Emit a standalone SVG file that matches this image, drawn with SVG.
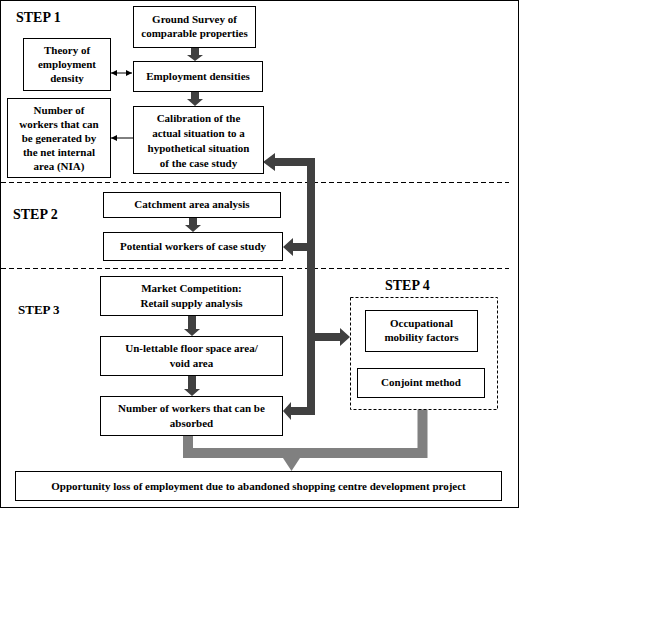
<svg xmlns="http://www.w3.org/2000/svg" width="650" height="636" viewBox="0 0 650 636">
<defs>
<style>
.box{fill:#fff;stroke:#000;stroke-width:1}
.t{font-family:"Liberation Serif","Times New Roman",serif;font-weight:bold;font-size:11px;fill:#000;text-anchor:middle}
.step{font-family:"Liberation Serif","Times New Roman",serif;font-weight:bold;font-size:14px;fill:#000}
.dash{stroke:#000;stroke-width:1;stroke-dasharray:5,3;fill:none}
.dark{fill:#404040}
.gray{fill:#808080}
.thin{stroke:#000;stroke-width:1;fill:none}
</style>
<marker id="ah" markerWidth="8" markerHeight="8" refX="6" refY="3" orient="auto" markerUnits="userSpaceOnUse">
<path d="M0,0 L6,3 L0,6 Z" fill="#000"/>
</marker>
<marker id="ahs" markerWidth="8" markerHeight="8" refX="0" refY="3" orient="auto" markerUnits="userSpaceOnUse">
<path d="M6,0 L0,3 L6,6 Z" fill="#000"/>
</marker>
</defs>
<rect x="0.5" y="0.5" width="518" height="507" fill="#fff" stroke="#000" stroke-width="1"/>

<line class="dash" x1="1" y1="182.5" x2="509" y2="182.5"/>
<line class="dash" x1="1" y1="268.5" x2="509" y2="268.5"/>

<text class="step" x="16" y="22">STEP 1</text>
<text class="step" x="13" y="219">STEP 2</text>
<text class="step" x="18" y="314" style="font-size:13px">STEP 3</text>
<text class="step" x="385" y="290">STEP 4</text>

<g id="connectors">
<!-- step1 thick arrows -->
<polygon class="dark" points="191,47 199,47 199,55 203,55 195,61 187,55 191,55"/>
<polygon class="dark" points="191,91 199,91 199,99 203,99 195,106 187,99 191,99"/>
<!-- step2 -->
<polygon class="dark" points="189,217 197,217 197,225 201,225 193,232 185,225 189,225"/>
<!-- step3 -->
<polygon class="dark" points="188,315 196,315 196,329 200,329 192,336 184,329 188,329"/>
<polygon class="dark" points="188,375 196,375 196,389 200,389 192,396 184,389 188,389"/>
<!-- big dark connector -->
<polygon class="dark" points="263,162 275,153 275,158 315,158 315,415 291,415 291,420 283,411 291,402 291,407 307,407 307,341 307,251 293,251 293,256 283,247 293,238 293,243 307,243 307,166 275,166 275,171"/>
<polygon class="dark" points="315,333 340,333 340,328 350,337 340,346 340,341 315,341"/>
<!-- gray connector -->
<polyline points="188,435 188,453 422.5,453 422.5,409" fill="none" stroke="#808080" stroke-width="10" stroke-linejoin="miter"/>
<polygon class="gray" points="283,458 300,458 291.5,471"/>
<!-- thin arrows -->
<line class="thin" x1="111" y1="73" x2="132" y2="73" marker-start="url(#ahs)" marker-end="url(#ah)"/>
<line class="thin" x1="133" y1="138" x2="111" y2="138" marker-end="url(#ah)"/>
<line class="thin" x1="421" y1="351" x2="421" y2="368" marker-end="url(#ah)"/>
</g>

<g id="ground-survey">
<rect class="box" x="133.5" y="6.5" width="122" height="41"/>
<text class="t" x="194.5" y="23">Ground Survey of</text>
<text class="t" x="194.5" y="37">comparable properties</text>
</g>
<g id="theory">
<rect class="box" x="23.5" y="38.5" width="87" height="52"/>
<text class="t" x="67" y="54">Theory of</text>
<text class="t" x="67" y="68">employment</text>
<text class="t" x="67" y="82">density</text>
</g>
<g id="employment-densities">
<rect class="box" x="133.5" y="61.5" width="129" height="30"/>
<text class="t" x="198" y="80">Employment densities</text>
</g>
<g id="nia">
<rect class="box" x="7.5" y="98.5" width="103" height="79"/>
<text class="t" x="59" y="114">Number of</text>
<text class="t" x="59" y="128">workers that can</text>
<text class="t" x="59" y="142">be generated  by</text>
<text class="t" x="59" y="156">the net internal</text>
<text class="t" x="59" y="170">area (NIA)</text>
</g>
<g id="calibration">
<rect class="box" x="133.5" y="106.5" width="130" height="67"/>
<text class="t" x="198.5" y="122">Calibration of the</text>
<text class="t" x="198.5" y="137">actual situation to a</text>
<text class="t" x="198.5" y="152">hypothetical situation</text>
<text class="t" x="198.5" y="167">of the case study</text>
</g>
<g id="catchment">
<rect class="box" x="103.5" y="192.5" width="177" height="25"/>
<text class="t" x="192" y="208">Catchment area analysis</text>
</g>
<g id="potential-workers">
<rect class="box" x="103.5" y="232.5" width="179" height="28"/>
<text class="t" x="193" y="250">Potential workers of case study</text>
</g>
<g id="market">
<rect class="box" x="100.5" y="276.5" width="182" height="39"/>
<text class="t" x="191.5" y="292">Market Competition:</text>
<text class="t" x="191.5" y="307">Retail supply analysis</text>
</g>
<g id="unlettable">
<rect class="box" x="100.5" y="336.5" width="182" height="39"/>
<text class="t" x="191.5" y="352">Un-lettable floor space area/</text>
<text class="t" x="191.5" y="367">void area</text>
</g>
<g id="absorbed">
<rect class="box" x="100.5" y="396.5" width="182" height="39"/>
<text class="t" x="191.5" y="412">Number of workers that can be</text>
<text class="t" x="191.5" y="427">absorbed</text>
</g>
<g id="step4">
<rect x="350.5" y="297.5" width="147" height="112" fill="#fff" stroke="#000" stroke-width="1" stroke-dasharray="3,2"/>
</g>
<g id="occupational">
<rect class="box" x="365.5" y="310.5" width="112" height="41"/>
<text class="t" x="421.5" y="327">Occupational</text>
<text class="t" x="421.5" y="341">mobility factors</text>
</g>
<g id="conjoint">
<rect class="box" x="357.5" y="368.5" width="127" height="29"/>
<text class="t" x="421" y="386">Conjoint method</text>
</g>
<g id="opportunity-loss">
<rect class="box" x="15.5" y="471.5" width="486" height="29"/>
<text class="t" x="258.5" y="490">Opportunity loss of employment due to abandoned  shopping centre development project</text>
</g>
</svg>
